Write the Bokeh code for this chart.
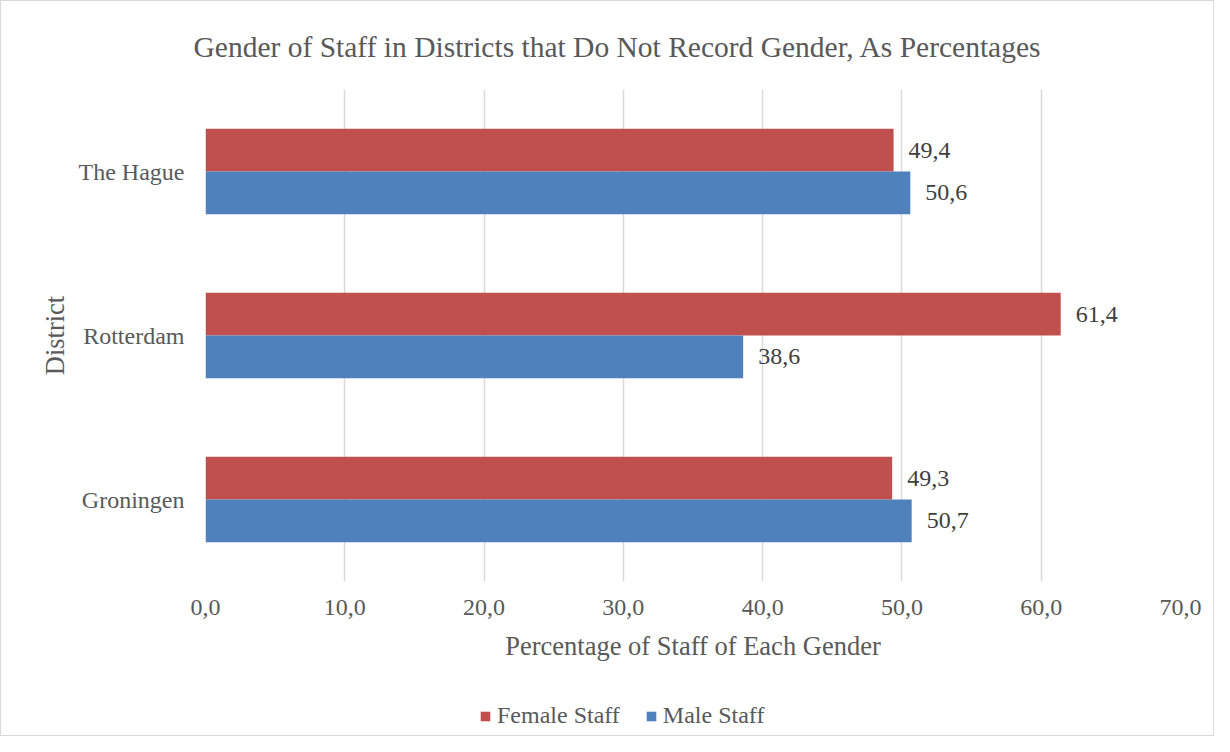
from bokeh.plotting import figure
from bokeh.layouts import column
from bokeh.models import (ColumnDataSource, LabelSet, Legend, LegendItem, FactorRange, Title,
                          Range1d, CustomJSTickFormatter)
from bokeh.transform import dodge
from bokeh.embed import file_html
from bokeh.resources import INLINE

districts = ["Groningen", "Rotterdam", "The Hague"]
female = [49.3, 61.4, 49.4]
male = [50.7, 38.6, 50.6]
x_ticks = [0, 10, 20, 30, 40, 50, 60, 70]
series_names = ["Female Staff", "Male Staff"]
series_cols = ["female", "male"]
series_colors = ["#C0504D", "#4F81BD"]
chart_title = "Gender of Staff in Districts that Do Not Record Gender, As Percentages"

FONT = "'Liberation Serif', 'Times New Roman', serif"
TXT = "#595959"
W = 1212

src = ColumnDataSource(dict(
    district=districts,
    female=female,
    male=male,
    female_lbl=[f"{v:.1f}".replace(".", ",") for v in female],
    male_lbl=[f"{v:.1f}".replace(".", ",") for v in male],
))

# ---- main chart ----
p = figure(width=W, height=678, y_range=FactorRange(*districts), x_range=(0, 70),
           output_backend="svg", toolbar_location=None,
           min_border_left=204, min_border_right=33, min_border_top=88, min_border_bottom=98)
p.outline_line_color = None
p.y_range.range_padding = 0

p.hbar(y=dodge("district", 0.13, range=p.y_range), right="female", left=0, height=0.26,
       source=src, fill_color=series_colors[0], line_color=None)
p.hbar(y=dodge("district", -0.13, range=p.y_range), right="male", left=0, height=0.26,
       source=src, fill_color=series_colors[1], line_color=None)

for col, off in (("female", 0.13), ("male", -0.13)):
    p.add_layout(LabelSet(x=col, y=dodge("district", off, range=p.y_range), text=col + "_lbl",
                          source=src, x_offset=15, text_baseline="middle", text_align="left",
                          text_font=FONT, text_font_size="24px", text_color="#404040"))

p.xaxis.ticker = x_ticks
p.xaxis.formatter = CustomJSTickFormatter(code="return tick.toFixed(1).replace('.', ',');")
for ax in (p.xaxis[0], p.yaxis[0]):
    ax.axis_line_color = None
    ax.major_tick_line_color = None
    ax.minor_tick_line_color = None
    ax.major_tick_out = 0
    ax.major_tick_in = 0
    ax.major_label_text_font = FONT
    ax.major_label_text_font_size = "24px"
    ax.major_label_text_color = TXT
    ax.axis_label_text_font = FONT
    ax.axis_label_text_font_size = "26.5px"
    ax.axis_label_text_color = TXT
    ax.axis_label_text_font_style = "normal"

p.xaxis.axis_label = "Percentage of Staff of Each Gender"
p.xaxis.major_label_standoff = 18
p.xaxis.axis_label_standoff = 13
p.yaxis.axis_label = "District"
p.yaxis.major_label_standoff = 21
p.yaxis.axis_label_standoff = 6

p.xgrid.grid_line_color = "#d9d9d9"
p.xgrid.grid_line_width = 1.5
p.ygrid.grid_line_color = None

p.add_layout(Title(text=chart_title, align="left", offset=-12, standoff=53,
                   text_font=FONT, text_font_size="29.5px", text_color=TXT,
                   text_font_style="normal"), "above")

# ---- legend strip (proxy renderers: zero height, outside the strip's visible range) ----
pl = figure(width=W, height=56, x_range=Range1d(-2, -1), y_range=FactorRange(*districts),
            x_axis_type=None, y_axis_type=None, output_backend="svg", toolbar_location=None,
            min_border=0)
pl.outline_line_color = None
pl.grid.visible = False
items = []
for name, colname, colr in zip(series_names, series_cols, series_colors):
    r = pl.hbar(y="district", right=colname, left=0, height=0, source=src,
                fill_color=colr, line_color=None)
    items.append(LegendItem(label=name, renderers=[r]))
pl.add_layout(Legend(items=items, orientation="horizontal", location=(274, 6),
                     glyph_width=12, glyph_height=12, label_standoff=6, spacing=25,
                     padding=0, margin=0, border_line_color=None, background_fill_alpha=0,
                     label_text_font=FONT, label_text_font_size="24px", label_text_color=TXT))

for f in (p, pl):
    f.background_fill_color = "white"
    f.border_fill_color = "white"

layout = column(p, pl, spacing=0)
layout.styles = {"border": "1px solid #d9d9d9", "background-color": "white"}

open("out.html", "w").write(file_html(layout, INLINE))
